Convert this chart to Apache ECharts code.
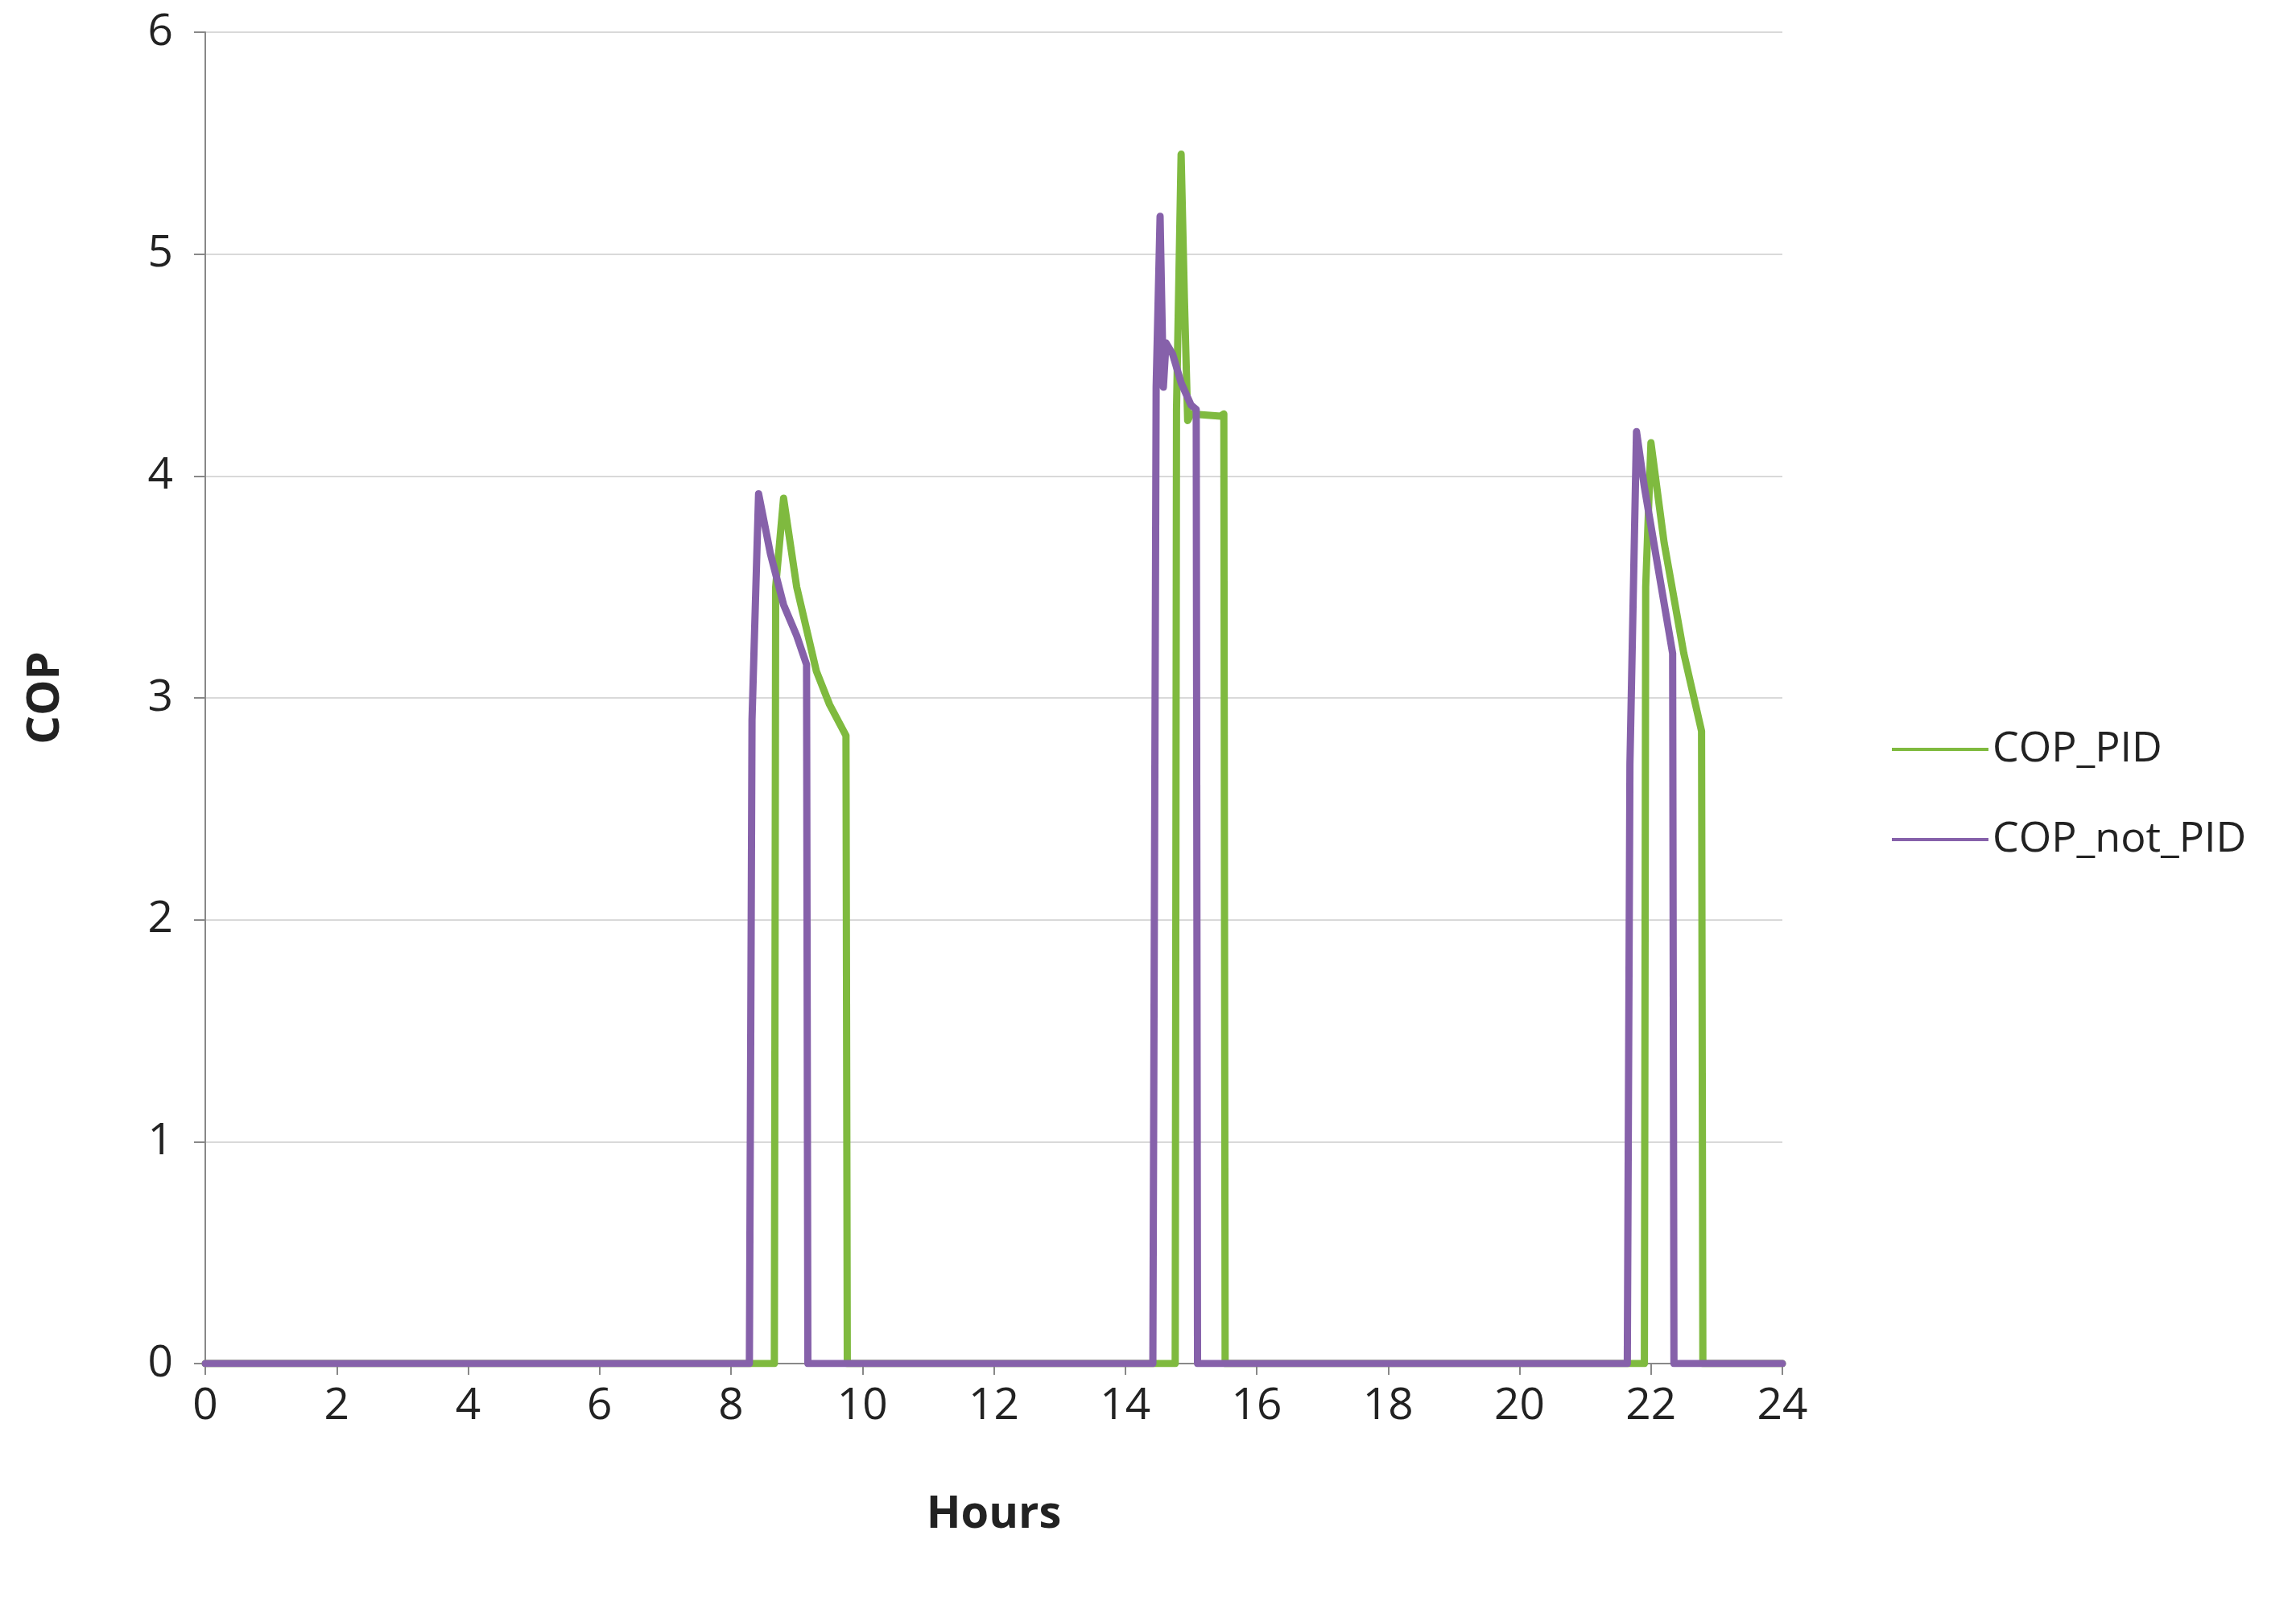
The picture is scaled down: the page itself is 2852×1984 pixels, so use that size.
<!DOCTYPE html>
<html>
<head>
<meta charset="utf-8">
<script src="https://cdn.jsdelivr.net/npm/echarts@6/dist/echarts.min.js"></script>
<style>html,body{margin:0;padding:0;background:#fff}#chart{width:2852px;height:1984px}</style>
</head>
<body>
<div id="chart"></div>
<script>
// [hour, COP]
var copPid = [[0,0],[8.66,0],[8.68,3.5],[8.8,3.9],[9.0,3.5],[9.3,3.12],[9.5,2.97],[9.75,2.83],[9.77,0],
  [14.76,0],[14.78,4.3],[14.85,5.45],[14.9,4.8],[14.95,4.25],[15.0,4.28],[15.45,4.27],[15.5,4.28],[15.52,0],
  [21.9,0],[21.92,3.5],[22.0,4.15],[22.2,3.7],[22.5,3.2],[22.77,2.85],[22.79,0],[24,0]];
var copNotPid = [[0,0],[8.28,0],[8.32,2.9],[8.42,3.92],[8.6,3.65],[8.8,3.42],[9.0,3.28],[9.15,3.15],[9.17,0],
  [14.42,0],[14.47,4.4],[14.53,5.17],[14.58,4.4],[14.62,4.6],[14.72,4.55],[14.85,4.42],[15.0,4.32],[15.08,4.3],[15.1,0],
  [21.64,0],[21.68,2.7],[21.78,4.2],[21.9,3.95],[22.1,3.6],[22.33,3.2],[22.35,0],[24,0]];
var seriesNames = ['COP_PID', 'COP_not_PID'];

var chart = echarts.init(document.getElementById('chart'));
var font = '"Open Sans", "DejaVu Sans", sans-serif';
chart.setOption({
  animation: false,
  grid: { left: 255, right: 638, top: 40, bottom: 290 },
  legend: {
    orient: 'vertical', left: 2345, top: 900, itemGap: 60,
    itemWidth: 120, itemHeight: 20,
    textStyle: { fontSize: 52, fontFamily: font, color: '#222' },
    data: seriesNames.map(function (n) { return { name: n, icon: 'path://M0,8 L120,8 L120,12 L0,12 Z' }; })
  },
  xAxis: {
    type: 'value', min: 0, max: 24, interval: 2,
    name: 'Hours', nameLocation: 'middle', nameGap: 160,
    nameTextStyle: { fontSize: 56, fontWeight: 'bold', fontFamily: font, color: '#222' },
    axisLine: { lineStyle: { color: '#888', width: 2 } },
    axisTick: { show: true, length: 14, lineStyle: { color: '#888', width: 2 } },
    axisLabel: { fontSize: 55, fontFamily: font, color: '#222', margin: 26 },
    splitLine: { show: false }
  },
  yAxis: {
    type: 'value', min: 0, max: 6, interval: 1,
    name: 'COP', nameLocation: 'middle', nameGap: 170,
    nameTextStyle: { fontSize: 56, fontWeight: 'bold', fontFamily: font, color: '#222' },
    axisLine: { show: true, lineStyle: { color: '#888', width: 2 } },
    axisTick: { show: true, length: 14, lineStyle: { color: '#888', width: 2 } },
    axisLabel: { fontSize: 55, fontFamily: font, color: '#222', margin: 40 },
    splitLine: { lineStyle: { color: '#d9d9d9', width: 2 } }
  },
  series: [
    { name: seriesNames[0], type: 'line', data: copPid, showSymbol: false, color: '#7fba3f',
      lineStyle: { width: 9, join: 'round', cap: 'round' } },
    { name: seriesNames[1], type: 'line', data: copNotPid, showSymbol: false, color: '#8661aa',
      lineStyle: { width: 9, join: 'round', cap: 'round' } }
  ]
});
</script>
</body>
</html>
